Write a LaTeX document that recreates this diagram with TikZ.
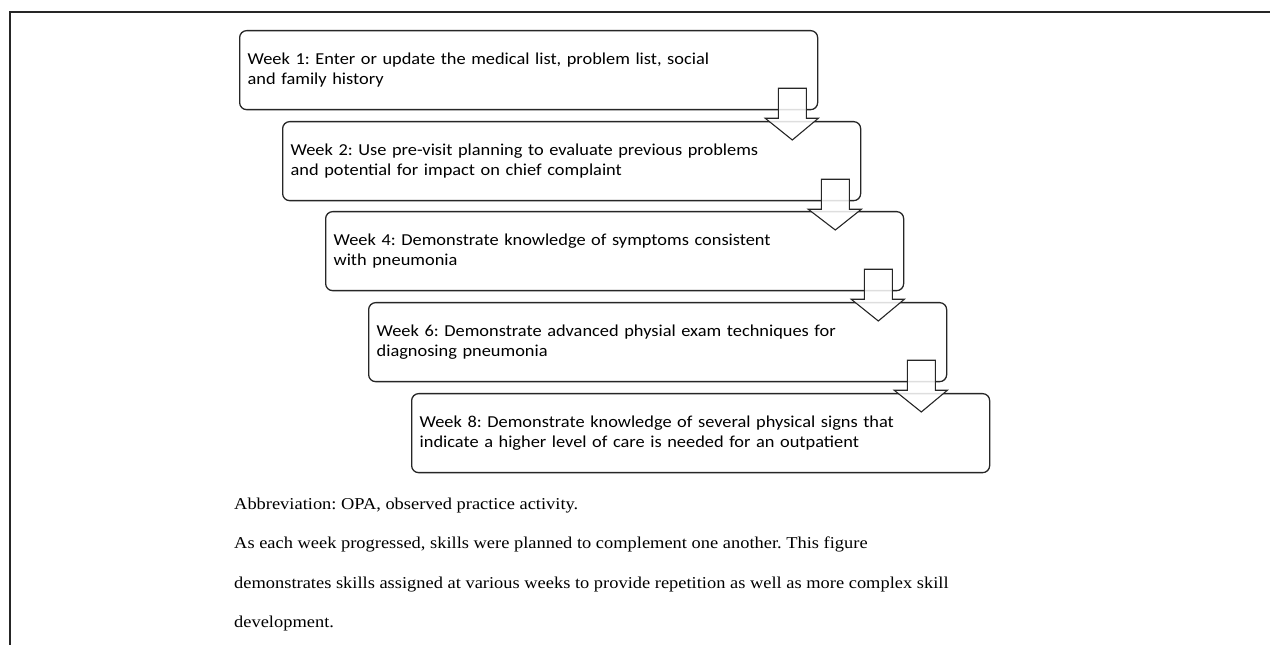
\documentclass[tikz,border=0pt]{standalone}
\usepackage{fontspec}
\setmainfont{Liberation Serif}
\newfontfamily\boxfont[FakeStretch=1.1]{Carlito}
\newfontfamily\capfont[FakeStretch=1.11]{Liberation Serif}
\usetikzlibrary{calc}
\frenchspacing
\newcommand\flowarr[2]{%
  \draw[flowarrow] ($(#1.south east)+(-40,22)$) -- ($(#1.south east)+(-12,22)$)
    -- ($(#1.south east)+(-12,-8)$) -- ($(#1.south east)+(0,-8)$)
    -- ($(#2.north east)+(-69,-19)$) -- ($(#1.south east)+(-53,-8)$)
    -- ($(#1.south east)+(-40,-8)$) -- cycle;}
\begin{document}
\begin{tikzpicture}[x=1pt,y=1pt,
  stepbox/.style={draw=black!85, line width=1.3pt, rounded corners=7pt,
    minimum width=578pt, minimum height=79pt, text width=562pt,
    inner xsep=8pt, inner ysep=0pt, align=left, anchor=north west,
    font=\boxfont\fontsize{16.7}{19.5}\selectfont},
  flowarrow/.style={draw=black!85, line width=1.1pt, fill=white,
    fill opacity=0.85, line join=miter},
  captext/.style={anchor=base west, inner sep=0pt,
    font=\capfont\fontsize{16.6}{19}\selectfont}]
\useasboundingbox (0,0) rectangle (1270,645);
\draw[line width=1.5pt, black!85] (10,0) -- (10,633) -- (1270,633);

\node[stepbox] (b1) at (239,615) {Week 1: Enter or update the medical list, problem list, social\\and family history};
\node[stepbox] (b2) at (282,524) {Week 2: Use pre-visit planning to evaluate previous problems\\and potential for impact on chief complaint};
\node[stepbox] (b3) at (325,434) {Week 4: Demonstrate knowledge of symptoms consistent\\with pneumonia};
\node[stepbox] (b4) at (368,343) {Week 6: Demonstrate advanced physial exam techniques for\\diagnosing pneumonia};
\node[stepbox] (b5) at (411,252) {Week 8: Demonstrate knowledge of several physical signs that\\indicate a higher level of care is needed for an outpatient};

\flowarr{b1}{b2}
\flowarr{b2}{b3}
\flowarr{b3}{b4}
\flowarr{b4}{b5}

\node[captext] (c1) at (234,135.5) {Abbreviation: OPA, observed practice activity.};
\node[captext] (c2) at (234,96) {As each week progressed, skills were planned to complement one another. This figure};
\node[captext] (c3) at (234,56.5) {demonstrates skills assigned at various weeks to provide repetition as well as more complex skill};
\node[captext] (c4) at (234,17) {development.};
\end{tikzpicture}
\end{document}
